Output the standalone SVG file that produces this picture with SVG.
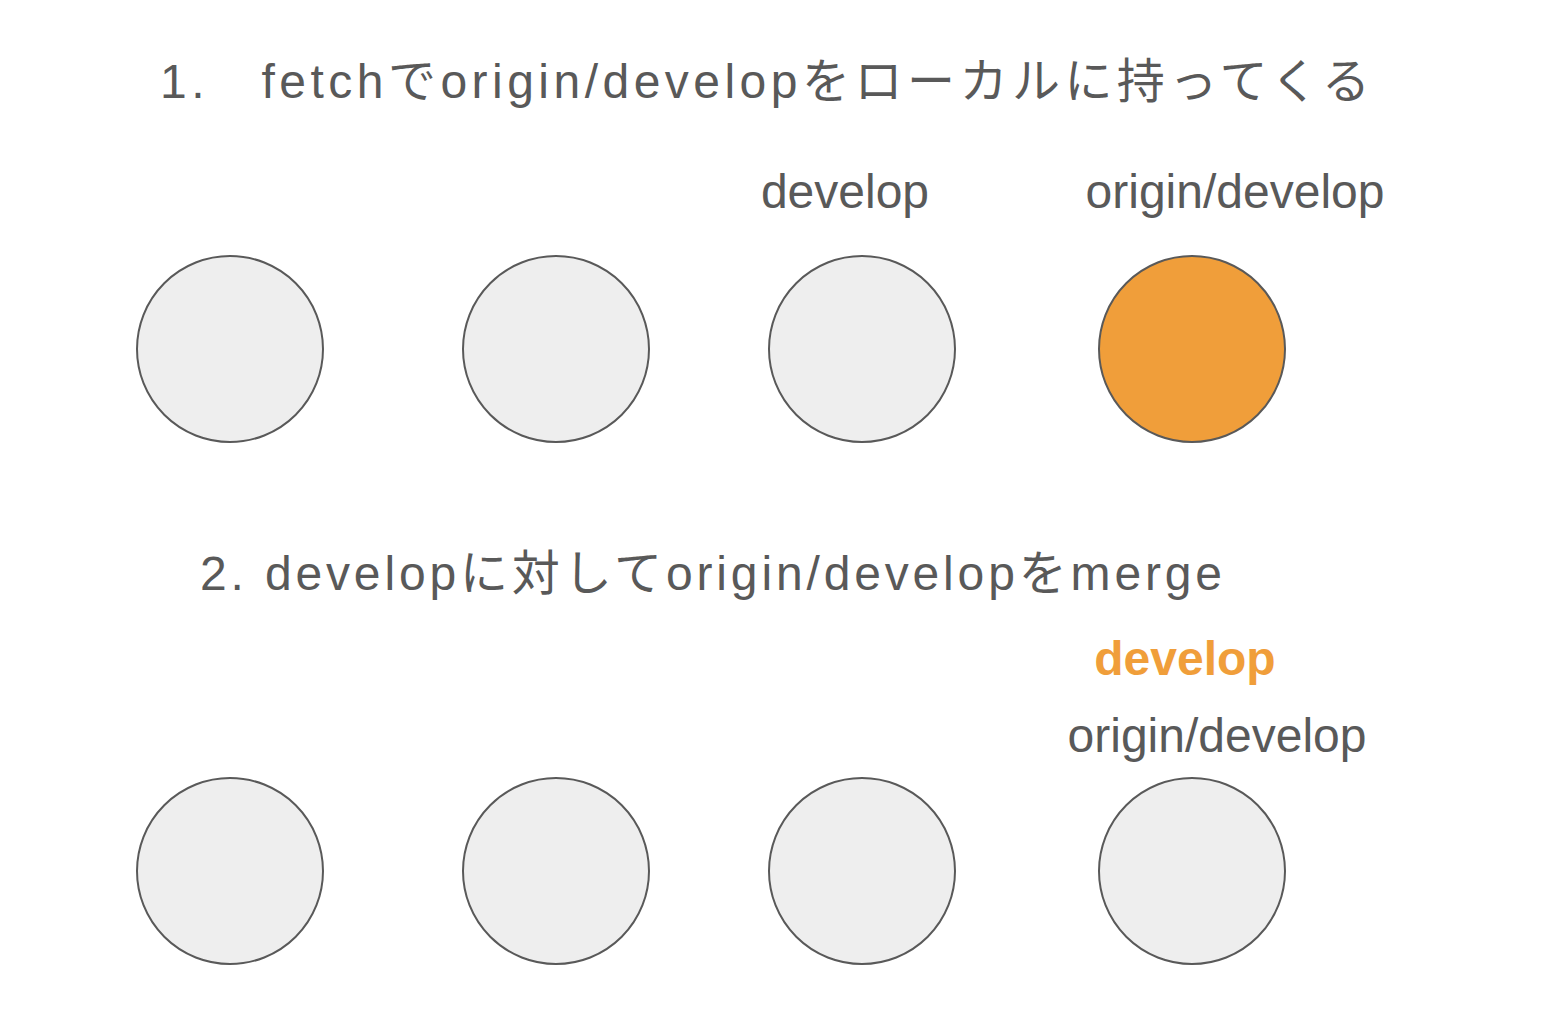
<svg xmlns="http://www.w3.org/2000/svg" width="1548" height="1010" viewBox="0 0 1548 1010">
<style>
text{font-family:"Liberation Sans","Noto Sans CJK JP",sans-serif;font-size:48px;fill:#595959}
.c{fill:#eeeeee;stroke:#595959;stroke-width:2}
.o{fill:#f09e3a}
</style>
<rect width="1548" height="1010" fill="#fff"/>
<text x="160" y="98" textLength="1210">1.　fetchでorigin/developをローカルに持ってくる</text>
<text x="845" y="208" text-anchor="middle">develop</text>
<text x="1235" y="208" text-anchor="middle">origin/develop</text>
<g id="n1"><circle class="c" cx="230" cy="349" r="93"/></g>
<g id="n2"><circle class="c" cx="556" cy="349" r="93"/></g>
<g id="n3"><circle class="c" cx="862" cy="349" r="93"/></g>
<g id="n4"><circle class="c o" cx="1192" cy="349" r="93"/></g>
<text x="200" y="590" textLength="1022">2. developに対してorigin/developをmerge</text>
<text x="1185" y="675" text-anchor="middle" font-weight="bold" style="fill:#f09e3a">develop</text>
<text x="1217" y="752" text-anchor="middle">origin/develop</text>
<g id="m1"><circle class="c" cx="230" cy="871" r="93"/></g>
<g id="m2"><circle class="c" cx="556" cy="871" r="93"/></g>
<g id="m3"><circle class="c" cx="862" cy="871" r="93"/></g>
<g id="m4"><circle class="c" cx="1192" cy="871" r="93"/></g>
<g id="connectors"/>
</svg>
